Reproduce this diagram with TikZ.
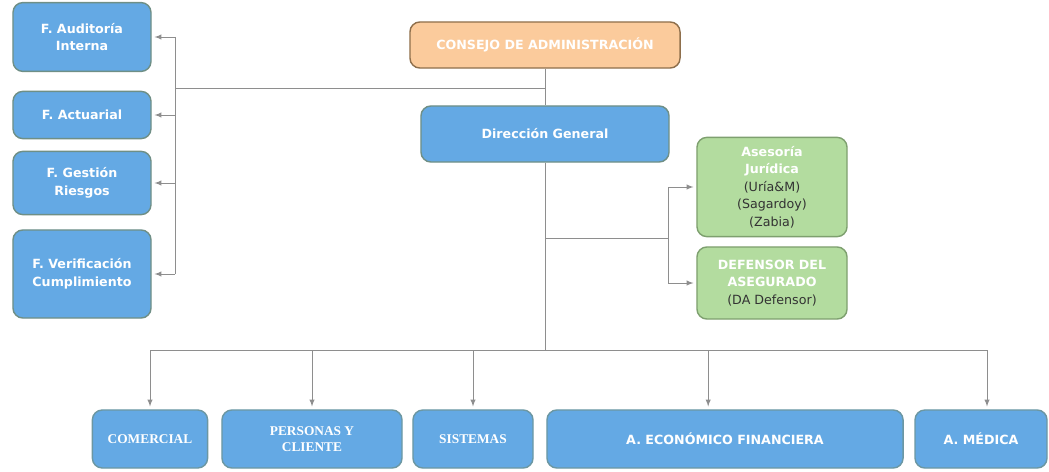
\documentclass[tikz,border=0pt]{standalone}
\usepackage{fontspec}
\setmainfont{DejaVu Sans}
\newfontfamily\serifbox{Liberation Serif}
\usetikzlibrary{calc}

\definecolor{boxblue}{HTML}{64A9E4}
\definecolor{blueline}{HTML}{6F8F86}
\definecolor{boxorange}{HTML}{FBCB9C}
\definecolor{orangeline}{HTML}{8E6F4C}
\definecolor{boxgreen}{HTML}{B3DC9F}
\definecolor{greenline}{HTML}{7EA06F}
\definecolor{linkgrey}{HTML}{8E8E8E}

\tikzset{
  unit/.style={draw, rounded corners=7pt, line width=1pt, align=center,
    text=white, font=\fontsize{9}{12.5}\selectfont\bfseries, inner sep=2pt},
  blueunit/.style={unit, fill=boxblue, draw=blueline},
  areaunit/.style={unit, fill=boxblue, draw=blueline!70!boxblue},
  serifunit/.style={areaunit, font=\serifbox\fontsize{9.5}{11}\selectfont\bfseries},
  orangeunit/.style={unit, fill=boxorange, draw=orangeline},
  greenunit/.style={unit, fill=boxgreen, draw=greenline},
  link/.style={draw=linkgrey, line width=0.7pt},
  arrowlink/.style={link, ->, shorten >=2pt}
}

\begin{document}
\begin{tikzpicture}[x=0.025cm, y=-0.025cm, >=latex]
    \useasboundingbox (0,0) rectangle (1049,472);

    % top of the chart
    \node (consejo) [orangeunit, minimum width=6.75cm, minimum height=1.15cm] at (545,45) {CONSEJO DE ADMINISTRACIÓN};
    \node (direccion) [blueunit, minimum width=6.2cm, minimum height=1.4cm] at (545,134) {Dirección General};

    % control functions
    \node (auditoria) [blueunit, minimum width=3.45cm, minimum height=1.72cm] at (82,37) {F. Auditoría\\Interna};
    \node (actuarial) [blueunit, minimum width=3.45cm, minimum height=1.18cm] at (82,115) {F. Actuarial};
    \node (riesgos) [blueunit, minimum width=3.45cm, minimum height=1.58cm] at (82,183) {F. Gestión\\Riesgos};
    \node (cumplimiento) [blueunit, minimum width=3.45cm, minimum height=2.2cm] at (82,274) {F. Verificación\\Cumplimiento};

    % advisors
    \node (asesoria) [greenunit, minimum width=3.75cm, minimum height=2.48cm] at (772,187)
      {Asesoría\\Jurídica\\{\mdseries\color{black!80}(Uría\&M)}\\{\mdseries\color{black!80}(Sagardoy)}\\{\mdseries\color{black!80}(Zabia)}};
    \node (defensor) [greenunit, minimum width=3.75cm, minimum height=1.8cm] at (772,283)
      {DEFENSOR DEL\\ASEGURADO\\{\mdseries\color{black!80}(DA Defensor)}};

    % areas
    \node (comercial) [serifunit, minimum width=2.88cm, minimum height=1.45cm] at (150,439) {COMERCIAL};
    \node (personas) [serifunit, minimum width=4.5cm, minimum height=1.45cm] at (312,439) {PERSONAS Y\\CLIENTE};
    \node (sistemas) [serifunit, minimum width=3cm, minimum height=1.45cm] at (473,439) {SISTEMAS};
    \node (economico) [areaunit, minimum width=8.9cm, minimum height=1.45cm] at (725,439) {A. ECONÓMICO FINANCIERA};
    \node (medica) [areaunit, minimum width=3.3cm, minimum height=1.45cm] at (981,439) {A. MÉDICA};

    % bus points
    \coordinate (lefttap) at (545,88);
    \coordinate (leftbus) at (175,88);
    \coordinate (righttap) at (545,238);
    \coordinate (rightbus) at (668,238);
    \coordinate (bottomtap) at (545,350);

    \draw[link] (consejo) -- (direccion);
    \draw[link] (lefttap) -- (leftbus);
    \draw[link] (leftbus |- auditoria.east) -- (leftbus |- cumplimiento.east);
    \foreach \unit in {auditoria, actuarial, riesgos, cumplimiento}
      \draw[arrowlink] (leftbus |- \unit.east) -- (\unit.east);

    \draw[link] (direccion.south) -- (bottomtap);
    \draw[link] (righttap) -- (rightbus);
    \draw[link] (rightbus |- asesoria.west) -- (rightbus |- defensor.west);
    \draw[arrowlink] (rightbus |- asesoria.west) -- (asesoria.west);
    \draw[arrowlink] (rightbus |- defensor.west) -- (defensor.west);

    \draw[link] (bottomtap -| comercial.north) -- ([xshift=0.15cm]bottomtap -| medica.north);
    \foreach \unit in {comercial, personas, sistemas}
      \draw[arrowlink] (bottomtap -| \unit.north) -- (\unit.north);
    \draw[arrowlink] ([xshift=-0.42cm]bottomtap -| economico.north) -- ([xshift=-0.42cm]economico.north);
    \draw[arrowlink] ([xshift=0.15cm]bottomtap -| medica.north) -- ([xshift=0.15cm]medica.north);
  \end{tikzpicture}
\end{document}
